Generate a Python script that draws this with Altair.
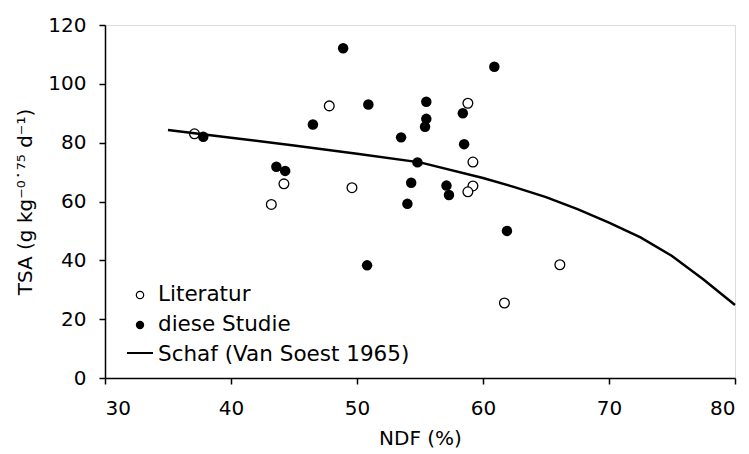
import altair as alt
import pandas as pd

# Literatur (open circles)
lit_x = [37.1, 47.8, 58.8, 59.2, 59.2, 58.8, 44.2, 43.2, 49.6, 66.1, 61.7]
lit_y = [83.0, 92.5, 93.4, 73.4, 65.3, 63.3, 66.0, 59.0, 64.7, 38.5, 25.5]

# diese Studie (filled circles)
study_x = [37.8, 48.9, 46.5, 43.6, 44.3, 50.9, 55.5, 55.5, 55.4, 53.5,
           58.4, 58.5, 60.9, 54.8, 54.3, 54.0, 57.1, 57.3, 61.9, 50.8]
study_y = [82.0, 112.1, 86.2, 71.8, 70.4, 93.0, 93.9, 88.1, 85.4, 81.8,
           90.0, 79.5, 105.8, 73.3, 66.4, 59.2, 65.4, 62.2, 50.0, 38.3]

# Schaf (Van Soest 1965) curve
curve_x = [35, 40, 45, 50, 55, 60, 62.5, 65, 67.5, 70, 72.5, 75, 77.5, 80]
curve_y = [84.3, 81.7, 79.0, 76.2, 73.3, 68.0, 64.9, 61.5, 57.4, 52.8, 47.8, 41.5, 33.5, 24.8]

legend_labels = ["Literatur", "diese Studie", "Schaf (Van Soest 1965)"]
x_ticks = [30, 40, 50, 60, 70, 80]
y_ticks = [0, 20, 40, 60, 80, 100, 120]

FONT = "DejaVu Sans"

lit = pd.DataFrame({"x": lit_x, "y": lit_y})
study = pd.DataFrame({"x": study_x, "y": study_y})
curve = pd.DataFrame({"x": curve_x, "y": curve_y})

xs = alt.Scale(domain=[30, 80], nice=False, zero=False)
ys = alt.Scale(domain=[0, 120], nice=False)

xenc = alt.X("x:Q", scale=xs, title="NDF (%)",
             axis=alt.Axis(values=x_ticks, grid=False, domainColor="black", domainWidth=1.5,
                           tickColor="black", tickWidth=1.5, tickSize=6, labelFontSize=20,
                           labelPadding=14, titleFontSize=20, titlePadding=10,
                           labelColor="black", titleColor="black", titleFontWeight="normal",
                           labelFont=FONT, titleFont=FONT))
yenc = alt.Y("y:Q", scale=ys, title="TSA (g kg⁻⁰˙⁷⁵ d⁻¹)",
             axis=alt.Axis(values=y_ticks, grid=False, domainColor="black", domainWidth=1.5,
                           tickColor="black", tickWidth=1.5, tickSize=6, labelFontSize=20,
                           labelPadding=13, titleFontSize=20, titlePadding=12,
                           labelColor="black", titleColor="black", titleFontWeight="normal",
                           labelFont=FONT, titleFont=FONT))

open_pts = alt.Chart(lit).mark_point(shape="circle", filled=True, fill="white", stroke="black",
                                     strokeWidth=1.3, size=95, opacity=1).encode(x=xenc, y=yenc)
line = alt.Chart(curve).mark_line(color="black", strokeWidth=2.5).encode(x="x:Q", y="y:Q")
filled_pts = alt.Chart(study).mark_point(shape="circle", filled=True, fill="black", stroke="black",
                                         strokeWidth=0, size=110, opacity=1).encode(x="x:Q", y="y:Q")

# legend (manual, inside plot)
leg = []
one = [pd.DataFrame({"label": [l]}) for l in legend_labels]
leg.append(alt.Chart(one[0]).mark_point(shape="circle", filled=True, fill="white", stroke="black",
                                        strokeWidth=1.2, size=55, opacity=1)
           .encode(x=alt.value(35), y=alt.value(270)))
leg.append(alt.Chart(one[1]).mark_point(shape="circle", filled=True, fill="black",
                                        strokeWidth=0, size=70, opacity=1)
           .encode(x=alt.value(35), y=alt.value(300)))
leg.append(alt.Chart(one[2]).mark_rule(color="black", strokeWidth=2)
           .encode(x=alt.value(22), x2=alt.value(48), y=alt.value(328)))
for i, yy in enumerate([270, 300, 330]):
    leg.append(alt.Chart(one[i]).mark_text(align="left", baseline="middle", fontSize=21.5,
                                           font=FONT, color="black")
               .encode(x=alt.value(53), y=alt.value(yy), text="label:N"))

chart = alt.layer(open_pts, line, filled_pts, *leg).properties(
    width=630, height=353,
    autosize=alt.AutoSizeParams(type="none"),
    padding={"left": 97, "top": 17, "right": 6, "bottom": 76},
).configure_view(stroke=None).configure(font=FONT)

chart.save("out.html", embed_options={"renderer": "svg", "actions": False})
